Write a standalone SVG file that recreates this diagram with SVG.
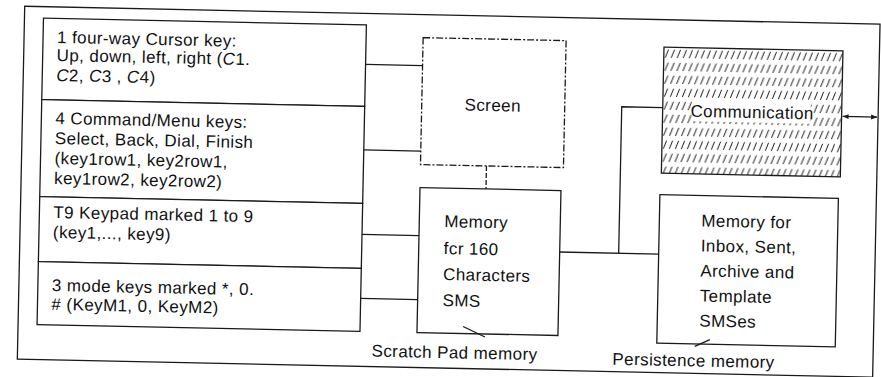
<svg xmlns="http://www.w3.org/2000/svg" width="881" height="377" viewBox="0 0 881 377">
<style>
.ln{fill:none;stroke:#1a1a1a;stroke-width:1.3}
.box{fill:#fff;stroke:#1a1a1a;stroke-width:1.3}
.dash{fill:#fff;stroke:#1a1a1a;stroke-width:1.3;stroke-dasharray:7 2 2 2}
.t{font-family:"Liberation Sans",Arial,Helvetica,sans-serif;font-size:17px;letter-spacing:0.4px;fill:#111}
.m{text-anchor:middle}
</style>
<defs>
<pattern id="hatch" patternUnits="userSpaceOnUse" x="661" y="42" width="6" height="13">
<path d="M1.4,11 L4.6,2.8" stroke="#1a1a1a" stroke-width="1" fill="none"/>
</pattern>
<marker id="ah" viewBox="0 0 10 10" refX="10" refY="5" markerWidth="6" markerHeight="6" markerUnits="userSpaceOnUse" orient="auto-start-reverse">
<path d="M0,1 L10,5 L0,9 Z" fill="#1a1a1a"/>
</marker>
</defs>
<rect width="881" height="377" fill="#fff"/>
<g transform="rotate(1.2 440 188)">
<rect id="frame" class="ln" x="21" y="15" width="855.5" height="353"/>

<g id="cursor-key">
<rect class="box" x="40" y="26.5" width="323" height="81.5"/>
<text class="t" x="54" y="51">1 four-way Cursor key:</text>
<text class="t" x="54" y="69">Up, down, left, right (<tspan font-style="italic">C</tspan>1.</text>
<text class="t" x="54" y="89"><tspan font-style="italic">C</tspan>2, <tspan font-style="italic">C</tspan>3 , <tspan font-style="italic">C</tspan>4)</text>
</g>
<g id="command-keys">
<rect class="box" x="40" y="108" width="323" height="97"/>
<text class="t" x="54" y="132">4 Command/Menu keys:</text>
<text class="t" x="54" y="152">Select, Back, Dial, Finish</text>
<text class="t" x="54" y="172">(key1row1, key2row1,</text>
<text class="t" x="54" y="192">key1row2, key2row2)</text>
</g>
<g id="keypad">
<rect class="box" x="40" y="205" width="323" height="65"/>
<text class="t" x="54" y="226">T9 Keypad marked 1 to 9</text>
<text class="t" x="54" y="246">(key1,..., key9)</text>
</g>
<g id="mode-keys">
<rect class="box" x="40" y="270" width="323" height="63"/>
<text class="t" x="54" y="299">3 mode keys marked *, 0.</text>
<text class="t" x="54" y="318"># (KeyM1, 0, KeyM2)</text>
</g>

<g id="screen">
<rect class="dash" x="420" y="38" width="143" height="127"/>
<text class="t m" x="491" y="110">Screen</text>
</g>

<g id="scratch-pad-memory">
<rect class="box" x="420" y="188" width="141" height="145"/>
<text class="t" x="445" y="227">Memory</text>
<text class="t" x="445" y="254">fcr 160</text>
<text class="t" x="445" y="280">Characters</text>
<text class="t" x="445" y="306">SMS</text>
<text class="t" x="375" y="358">Scratch Pad memory</text>
</g>

<g id="communication">
<rect x="661" y="42.5" width="179" height="126" fill="url(#hatch)" stroke="#1a1a1a" stroke-width="1.3"/>
<rect x="692" y="96" width="117" height="20" fill="#fff"/>
<text class="t m" x="750.5" y="111.5">Communication</text>
</g>

<g id="persistence-memory">
<rect class="box" x="660" y="190" width="178.5" height="148.5"/>
<text class="t" x="702" y="221">Memory  for</text>
<text class="t" x="702" y="246">Inbox, Sent,</text>
<text class="t" x="702" y="271">Archive and</text>
<text class="t" x="702" y="296">Template</text>
<text class="t" x="702" y="321">SMSes</text>
<text class="t" x="616" y="361">Persistence memory</text>
</g>

<g id="connectors">
<line class="ln" x1="363" y1="66" x2="420" y2="66"/>
<line class="ln" x1="363" y1="151.5" x2="420" y2="151.5"/>
<line class="ln" x1="363" y1="236" x2="420" y2="236"/>
<line class="ln" x1="363" y1="300" x2="420" y2="300"/>
<line class="ln" x1="486" y1="165" x2="486" y2="188" stroke-dasharray="5 2"/>
<line class="ln" x1="561" y1="249.5" x2="660" y2="249.5"/>
<polyline class="ln" points="620,249.5 620,103 661,103"/>
<line class="ln" x1="841" y1="108" x2="875.5" y2="108" marker-start="url(#ah)" marker-end="url(#ah)"/>
<line class="ln" x1="466" y1="326" x2="488" y2="336" stroke-width="1"/>
<line class="ln" x1="698" y1="341" x2="713" y2="334" stroke-width="1"/>
</g>
</g>
</svg>
